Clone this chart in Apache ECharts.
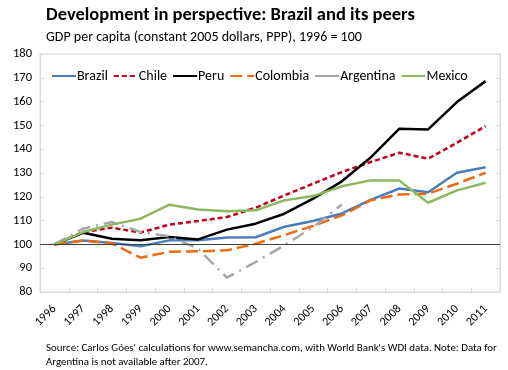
<!DOCTYPE html>
<html><head><meta charset="utf-8">
<script src="https://cdn.jsdelivr.net/npm/echarts@6/dist/echarts.min.js"></script>
<style>html,body{margin:0;padding:0;background:#fff}#c{width:508px;height:370px}</style>
</head><body><div id="c"></div>
<script>
const years = ['1996','1997','1998','1999','2000','2001','2002','2003','2004','2005','2006','2007','2008','2009','2010','2011'];
const brazil = [100,101.6,100.6,99.2,101.7,101.7,102.9,103,107.4,109.8,113,118.7,123.5,121.9,130.1,132.4];
const chile = [100,105.2,107,105,108.3,109.8,111.5,115.4,120.6,125.5,130.4,134.6,138.5,136,142.7,149.7];
const peru = [100,104.9,102.4,101.7,103.1,102.1,106.2,108.7,112.9,119.2,126.5,136.5,148.6,148.3,159.8,168.6];
const colombia = [100,101.6,100.4,94.4,96.9,97.1,97.5,100.3,103.9,107.8,112.2,118.5,121,121.3,125.5,130.1];
const argentina = [100,106.6,109.4,105.2,103.4,98.2,86,92.6,99.6,107.3,116.8,null,null,null,null,null];
const mexico = [100,105.2,108.3,110.8,116.7,114.7,113.9,114.3,118.5,120.3,124.4,126.9,126.8,117.5,122.7,125.9];
const yTicks = {min: 80, max: 180, interval: 10};

const FONT = "Carlito, 'Open Sans', 'Liberation Sans', sans-serif";
const chart = echarts.init(document.getElementById('c'), null, {renderer: 'canvas'});
function line(name, data, color, type, extra) {
  return Object.assign({
    name, type: 'line', data, symbol: 'none', smooth: false, connectNulls: false,
    lineStyle: {color, width: 2.5, type, cap: 'butt'}, itemStyle: {color},
    emphasis: {disabled: true}, animation: false
  }, extra || {});
}
chart.setOption({
  animation: false,
  textStyle: {fontFamily: FONT},
  title: [
    {text: 'Development in perspective: Brazil and its peers', left: 41, top: 1,
     textStyle: {fontFamily: FONT, fontSize: 18.5, fontWeight: 'bold', color: '#000'}},
    {text: 'GDP per capita (constant 2005 dollars, PPP), 1996 = 100', left: 41, top: 25,
     textStyle: {fontFamily: FONT, fontSize: 14, fontWeight: 'normal', color: '#000'}},
    {text: "Source: Carlos Góes' calculations for www.semancha.com, with World Bank's WDI data. Note: Data for\nArgentina is not available after 2007.",
     left: 41, top: 336,
     textStyle: {fontFamily: FONT, fontSize: 10.9, fontWeight: 'normal', color: '#000', lineHeight: 14}}
  ],
  legend: {
    left: 46, top: 64, itemWidth: 24, itemHeight: 10, itemGap: 5,
    itemStyle: {opacity: 0},
    textStyle: {fontFamily: FONT, fontSize: 14, color: '#000', padding: [0, 0, 0, -4]},
    data: ['Brazil', 'Chile', 'Peru', 'Colombia', {name: 'Argentina', lineStyle: {type: 'solid'}}, 'Mexico']
  },
  grid: {left: 40, right: 8, top: 54, bottom: 78, show: true, borderColor: '#D9D9D9', borderWidth: 1},
  xAxis: {
    type: 'category', data: years, boundaryGap: true,
    axisLine: {lineStyle: {color: '#D9D9D9'}},
    axisTick: {show: true, inside: true, length: 4, lineStyle: {color: '#D9D9D9'}},
    axisLabel: {rotate: 45, margin: 15, fontSize: 12, color: '#000', fontFamily: FONT, interval: 0},
    splitLine: {show: false}
  },
  yAxis: [
    {type: 'value', min: yTicks.min, max: yTicks.max, interval: yTicks.interval,
     axisLine: {show: true, lineStyle: {color: '#D9D9D9'}},
     axisTick: {show: true, inside: true, length: 4, lineStyle: {color: '#D9D9D9'}},
     axisLabel: {fontSize: 12.5, color: '#000', fontFamily: FONT, margin: 8},
     splitLine: {show: false}},
    {type: 'value', min: yTicks.min, max: yTicks.max, interval: yTicks.interval, position: 'right',
     axisLine: {show: true, lineStyle: {color: '#D9D9D9'}},
     axisTick: {show: true, inside: true, length: 4, lineStyle: {color: '#D9D9D9'}},
     axisLabel: {show: false}, splitLine: {show: false}}
  ],
  series: [
    line('Brazil', brazil, '#4A7EBB', 'solid', {z: 3,
      markLine: {silent: true, symbol: 'none', label: {show: false}, animation: false,
        lineStyle: {color: '#404040', width: 1, type: 'solid'}, data: [{yAxis: 100}]}}),
    line('Chile', chile, '#C0001D', [5, 3]),
    line('Peru', peru, '#000000', 'solid'),
    line('Colombia', colombia, '#EE6A12', [12, 5]),
    line('Argentina', argentina, '#A6A6A6', [13, 6, 2, 6]),
    line('Mexico', mexico, '#8DB85F', 'solid')
  ]
});
</script></body></html>
